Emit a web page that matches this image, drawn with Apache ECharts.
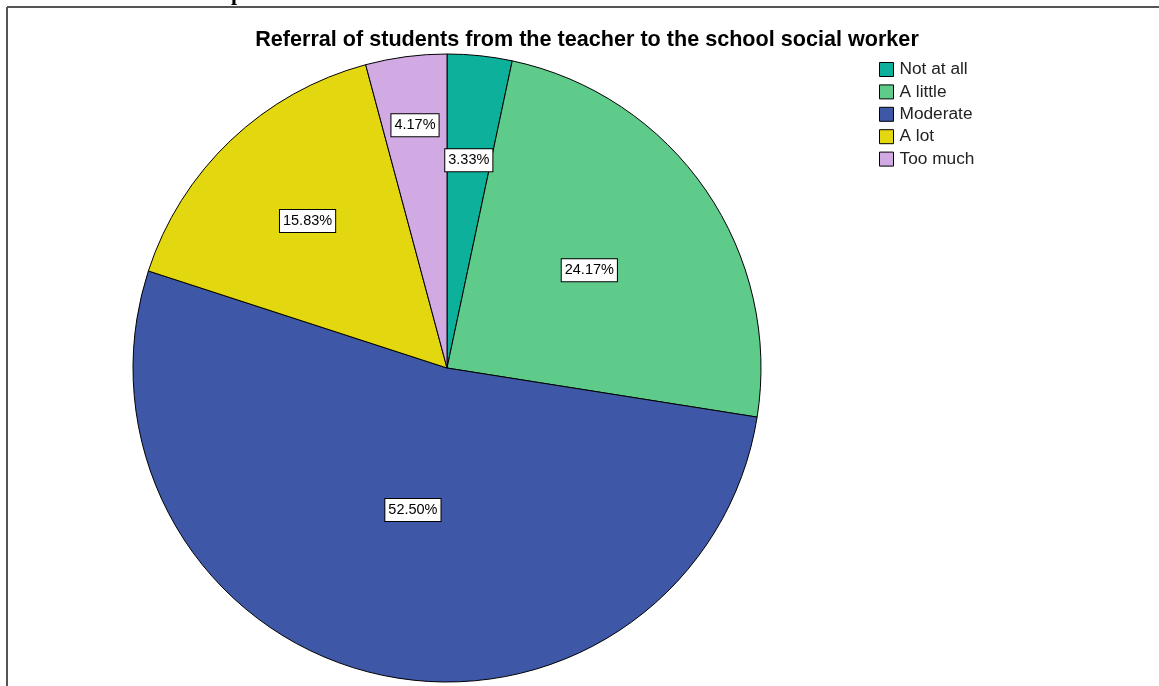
<!DOCTYPE html>
<html>
<head>
<meta charset="utf-8">
<script src="https://cdn.jsdelivr.net/npm/echarts@6/dist/echarts.min.js"></script>
<style>
  html, body { margin: 0; padding: 0; background: #ffffff; }
  #chart { width: 1159px; height: 686px; }
</style>
</head>
<body>
<div id="chart"></div>
<script>
// Response categories and their share of respondents (%)
const categories = ['Not at all', 'A little', 'Moderate', 'A lot', 'Too much'];
const percents = [3.33, 24.17, 52.50, 15.83, 4.17];
const sliceColors = ['#0db19b', '#5ecb8b', '#3e58a7', '#e3d70f', '#d1a9e3'];

// Pie geometry
const CX = 447, CY = 368, R = 314;
// Radial placement of each value box, as a fraction of the radius
const labelRadius = [0.665, 0.55, 0.465, 0.645, 0.78];

const total = percents.reduce((a, b) => a + b, 0);
const midAngles = [];
let acc = 0;
percents.forEach(v => {
  midAngles.push(((acc + v / 2) / total) * 2 * Math.PI);
  acc += v;
});

const chart = echarts.init(document.getElementById('chart'), null, { renderer: 'canvas' });

chart.setOption({
  backgroundColor: '#ffffff',
  animation: false,
  title: {
    text: 'Referral of students from the teacher to the school social worker',
    left: 582,
    top: 24,
    textAlign: 'center',
    textStyle: {
      fontFamily: 'Liberation Sans, Arial, sans-serif',
      fontWeight: 'bold',
      fontSize: 21.6,
      color: '#000000'
    }
  },
  legend: {
    orient: 'vertical',
    left: 874,
    top: 56,
    itemWidth: 14,
    itemHeight: 14,
    itemGap: 5.4,
    icon: 'rect',
    data: categories,
    itemStyle: { borderColor: '#000000', borderWidth: 1 },
    textStyle: {
      fontFamily: 'Liberation Sans, Arial, sans-serif',
      fontSize: 17.3,
      lineHeight: 14,
      color: '#222222',
      padding: [0, 0, 0, 1]
    }
  },
  graphic: [
    { type: 'line', shape: { x1: 7, y1: 7, x2: 1159, y2: 7 }, style: { stroke: '#555555', lineWidth: 2 } },
    { type: 'line', shape: { x1: 7, y1: 7, x2: 7, y2: 686 }, style: { stroke: '#555555', lineWidth: 2 } },
    {
      type: 'text', left: 231, top: -17,
      style: { text: 'p', font: 'bold 22px "Liberation Serif", serif', fill: '#000000' }
    }
  ],
  series: [{
    type: 'pie',
    center: [CX, CY],
    radius: [0, R],
    startAngle: 90,
    clockwise: true,
    avoidLabelOverlap: false,
    itemStyle: { borderColor: '#000000', borderWidth: 1 },
    label: {
      show: true,
      position: 'inside',
      formatter: p => percents[p.dataIndex].toFixed(2) + '%',
      fontFamily: 'Liberation Sans, Arial, sans-serif',
      fontSize: 14.5,
      color: '#000000',
      backgroundColor: '#ffffff',
      borderColor: '#000000',
      borderWidth: 1,
      padding: [4, 3, 3, 3]
    },
    labelLine: { show: false },
    labelLayout: params => {
      const i = params.dataIndex;
      const a = midAngles[i];
      const r = R * labelRadius[i];
      return {
        x: CX + r * Math.sin(a),
        y: CY - r * Math.cos(a),
        align: 'center',
        verticalAlign: 'middle'
      };
    },
    emphasis: { disabled: true },
    data: categories.map((name, i) => ({
      name,
      value: percents[i],
      itemStyle: { color: sliceColors[i] }
    }))
  }]
});
</script>
</body>
</html>
